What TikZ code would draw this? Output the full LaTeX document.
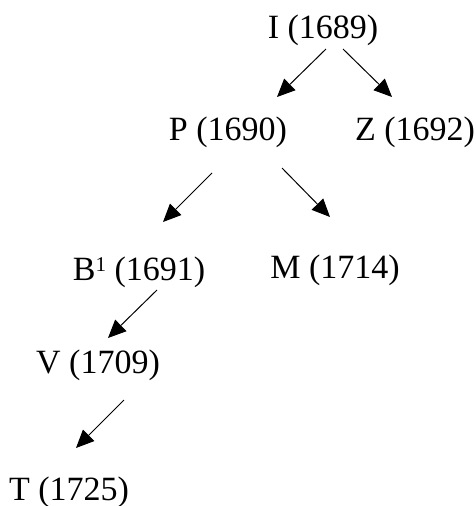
\documentclass[tikz,border=0pt]{standalone}
\usepackage{fontspec}
\setmainfont{Liberation Serif}
\usetikzlibrary{arrows.meta,calc}
\begin{document}
\begin{tikzpicture}[x=1pt,y=-1pt,
  lbl/.style={anchor=base,inner sep=0pt,font=\fontsize{34}{40}\selectfont},
  arr/.style={line width=1pt,-{Triangle[length=18pt,width=16pt]}}]
\useasboundingbox (0,0) rectangle (476,506);
\node[lbl] (I) at (323,38) {I (1689)};
\node[lbl] (P) at (228,140) {P (1690)};
\node[lbl] (Z) at (415,140) {Z (1692)};
\node[lbl] (B) at (139,280) {B\raisebox{9pt}{\fontsize{21}{24}\selectfont 1} (1691)};
\node[lbl] (M) at (335,278) {M (1714)};
\node[lbl] (V) at (98,373) {V (1709)};
\node[lbl] (T) at (69,500) {T (1725)};
\draw[arr] ($(I.base)+(3,11)$) -- ($(P.base)+(49,-43)$);
\draw[arr] ($(I.base)+(20,11)$) -- ($(Z.base)+(-23,-43)$);
\draw[arr] ($(P.base)+(-16,33)$) -- ($(B.base)+(24,-58)$);
\draw[arr] ($(P.base)+(54,28)$) -- ($(M.base)+(-5,-61)$);
\draw[arr] ($(B.base)+(18,10)$) -- ($(V.base)+(10,-35)$);
\draw[arr] ($(V.base)+(26,27)$) -- ($(T.base)+(7,-52)$);
\end{tikzpicture}
\end{document}
